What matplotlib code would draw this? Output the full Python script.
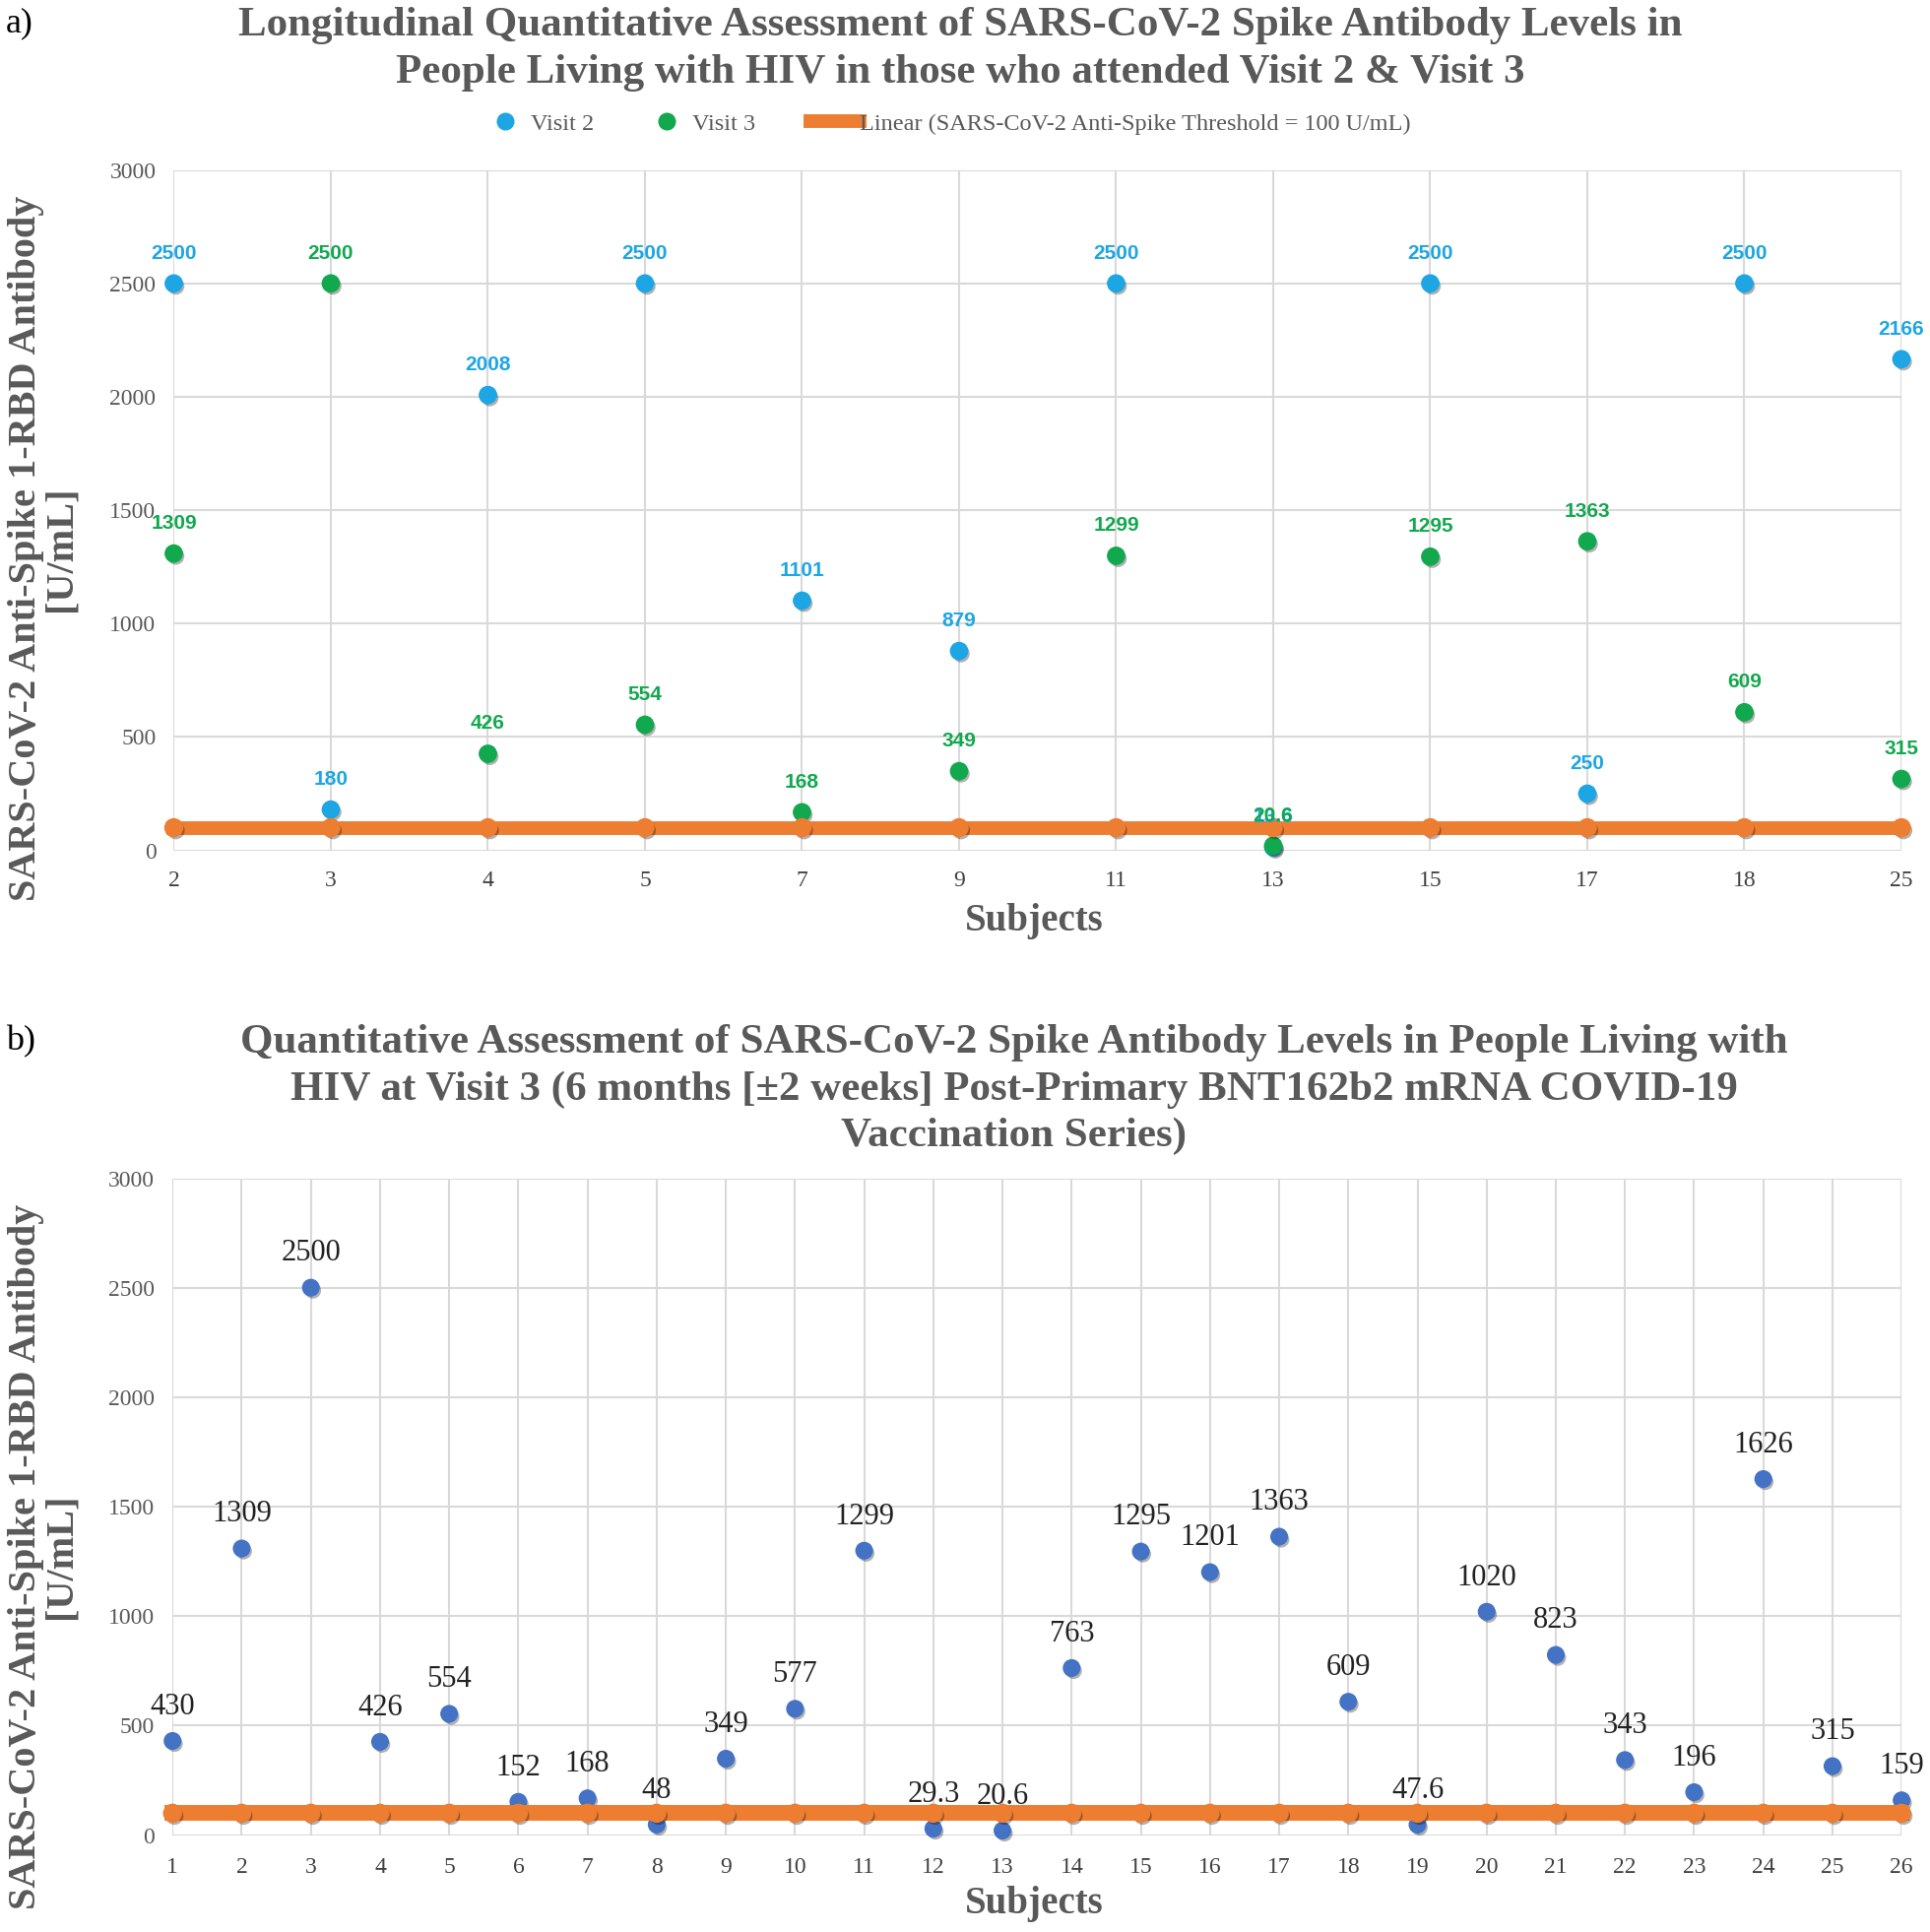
import matplotlib
matplotlib.use("Agg")
import matplotlib.pyplot as plt
import matplotlib.patheffects as pe
from matplotlib.lines import Line2D
import numpy as np

# ---------------- data ----------------
subjects_a = ["2", "3", "4", "5", "7", "9", "11", "13", "15", "17", "18", "25"]
visit2 = [2500, 180, 2008, 2500, 1101, 879, 2500, 13.6, 2500, 250, 2500, 2166]
visit3 = [1309, 2500, 426, 554, 168, 349, 1299, 20.6, 1295, 1363, 609, 315]

subjects_b = [str(i) for i in range(1, 27)]
visit3_all = [430, 1309, 2500, 426, 554, 152, 168, 48, 349, 577, 1299, 29.3, 20.6,
              763, 1295, 1201, 1363, 609, 47.6, 1020, 823, 343, 196, 1626, 315, 159]
threshold = 100
yticks = [0, 500, 1000, 1500, 2000, 2500, 3000]

title_a = ("Longitudinal Quantitative Assessment of SARS-CoV-2 Spike Antibody Levels in\n"
           "People Living with HIV in those who attended Visit 2 & Visit 3")
title_b = ("Quantitative Assessment of SARS-CoV-2 Spike Antibody Levels in People Living with\n"
           "HIV at Visit 3 (6 months [\u00b12 weeks] Post-Primary BNT162b2 mRNA COVID-19\n"
           "Vaccination Series)")
ylabel = "SARS-CoV-2 Anti-Spike 1-RBD Antibody\n[U/mL]"
thr_label = "Linear (SARS-CoV-2 Anti-Spike Threshold = 100 U/mL)"

# ---------------- style ----------------
SERIF = "Liberation Serif"
SANS = ["Liberation Sans Narrow", "Liberation Sans"]
GRAY = "#595959"
TICKX = "#404040"
GRID = "#D9D9D9"
C_V2 = "#1DA6E3"
C_V3 = "#11A84E"
C_B = "#4472C4"
C_OR = "#ED7D31"

shadow = [pe.SimplePatchShadow(offset=(1.5, -2), shadow_rgbFace="black", alpha=0.3), pe.Normal()]

fig = plt.figure(figsize=(19.6, 19.62), dpi=100)

ax_a = fig.add_axes([0.09005, 0.55984, 0.89515, 0.35214])
ax_b = fig.add_axes([0.0894, 0.05015, 0.8959, 0.34001])


def style_axes(ax, ncat):
    ax.set_ylim(0, 3000)
    ax.set_yticks(yticks)
    ax.set_xlim(0, ncat - 1)
    for s in ax.spines.values():
        s.set_visible(False)
    ax.grid(True, color=GRID, linewidth=1.5)
    ax.set_axisbelow(True)
    ax.tick_params(length=0, labelsize=17)
    ax.tick_params(axis="y", labelcolor=GRAY, pad=13)
    ax.tick_params(axis="x", labelcolor=TICKX)
    for lab in ax.get_yticklabels() + ax.get_xticklabels():
        lab.set_fontfamily(SERIF)


# ---------------- panel a ----------------
xa = np.arange(len(subjects_a))
style_axes(ax_a, len(subjects_a))
ax_a.set_xticks(xa)
ax_a.set_xticklabels(subjects_a, fontfamily=SERIF)
ax_a.tick_params(axis="x", pad=15)

ax_a.plot(xa, visit2, ls="none", marker="o", ms=12.5, color=C_V2, mec=C_V2,
          path_effects=shadow, zorder=3, clip_on=False)
ax_a.plot(xa, visit3, ls="none", marker="o", ms=12.5, color=C_V3, mec=C_V3,
          path_effects=shadow, zorder=3, clip_on=False)
ax_a.plot(xa, [threshold] * len(xa), color=C_OR, lw=10, marker="o", ms=13,
          mec=C_OR, path_effects=shadow, zorder=4, clip_on=False)

for x, v in zip(xa, visit2):
    ax_a.annotate(f"{v:g}", (x, v), xytext=(0, 22), textcoords="offset points",
                  ha="center", va="center", fontsize=15, fontweight="bold",
                  family=SANS, color=C_V2, zorder=5, annotation_clip=False)
for x, v in zip(xa, visit3):
    ax_a.annotate(f"{v:g}", (x, v), xytext=(0, 22), textcoords="offset points",
                  ha="center", va="center", fontsize=15, fontweight="bold",
                  family=SANS, color=C_V3, zorder=6, annotation_clip=False)

# legend a
h1 = Line2D([], [], ls="none", marker="o", ms=12, color=C_V2)
h2 = Line2D([], [], ls="none", marker="o", ms=12, color=C_V3)
h3 = Line2D([], [], color=C_OR, lw=10)
leg1 = fig.legend([h1, h2], ["Visit 2", "Visit 3"], ncol=2, frameon=False,
                  loc="center left", bbox_to_anchor=(0.256, 0.936), handlelength=0.9,
                  handletextpad=0.65, columnspacing=2.55, borderpad=0, borderaxespad=0,
                  prop={"family": SERIF, "size": 17.5})
for t in leg1.get_texts():
    t.set_color(GRAY)
leg2 = fig.legend([h3], [thr_label], frameon=False, loc="center left",
                  bbox_to_anchor=(0.4198, 0.936), handlelength=2.05, handletextpad=0.0,
                  borderpad=0, borderaxespad=0, prop={"family": SERIF, "size": 17.5})
for t in leg2.get_texts():
    t.set_color(GRAY)

fig.text(0.4975, 0.9745, title_a, ha="center", va="center", fontsize=31,
         fontweight="bold", family=SERIF, color=GRAY, linespacing=1.36)
fig.text(0.003, 0.988, "a)", ha="left", va="center", fontsize=26, family=SERIF, color="black")
fig.text(0.0225, 0.7160, ylabel, ha="center", va="center", rotation=90, fontsize=29,
         fontweight="bold", family=SERIF, color=GRAY, linespacing=0.95, multialignment="center")
fig.text(0.536, 0.523, "Subjects", ha="center", va="center", fontsize=28,
         fontweight="bold", family=SERIF, color=GRAY)

# ---------------- panel b ----------------
xb = np.arange(len(subjects_b))
style_axes(ax_b, len(subjects_b))
ax_b.set_xticks(xb)
ax_b.set_xticklabels(subjects_b, fontfamily=SERIF)
ax_b.tick_params(axis="x", pad=16)

ax_b.plot(xb, visit3_all, ls="none", marker="o", ms=12, color=C_B, mec=C_B,
          path_effects=shadow, zorder=3, clip_on=False)
ax_b.plot(xb, [threshold] * len(xb), color=C_OR, lw=11.5, marker="o", ms=13,
          mec=C_OR, path_effects=shadow, zorder=4, clip_on=False)
for x, v in zip(xb, visit3_all):
    ax_b.annotate(f"{v:g}", (x, v), xytext=(0, 25), textcoords="offset points",
                  ha="center", va="center", fontsize=22, family=SERIF,
                  color="#222222", zorder=6, annotation_clip=False)

fig.text(0.5255, 0.4360, title_b, ha="center", va="center", fontsize=31,
         fontweight="bold", family=SERIF, color=GRAY, linespacing=1.3)
fig.text(0.003, 0.461, "b)", ha="left", va="center", fontsize=26, family=SERIF, color="black")
fig.text(0.0225, 0.1945, ylabel, ha="center", va="center", rotation=90, fontsize=29,
         fontweight="bold", family=SERIF, color=GRAY, linespacing=0.95, multialignment="center")
fig.text(0.536, 0.0143, "Subjects", ha="center", va="center", fontsize=28,
         fontweight="bold", family=SERIF, color=GRAY)

fig.savefig("out.png", dpi=100)
